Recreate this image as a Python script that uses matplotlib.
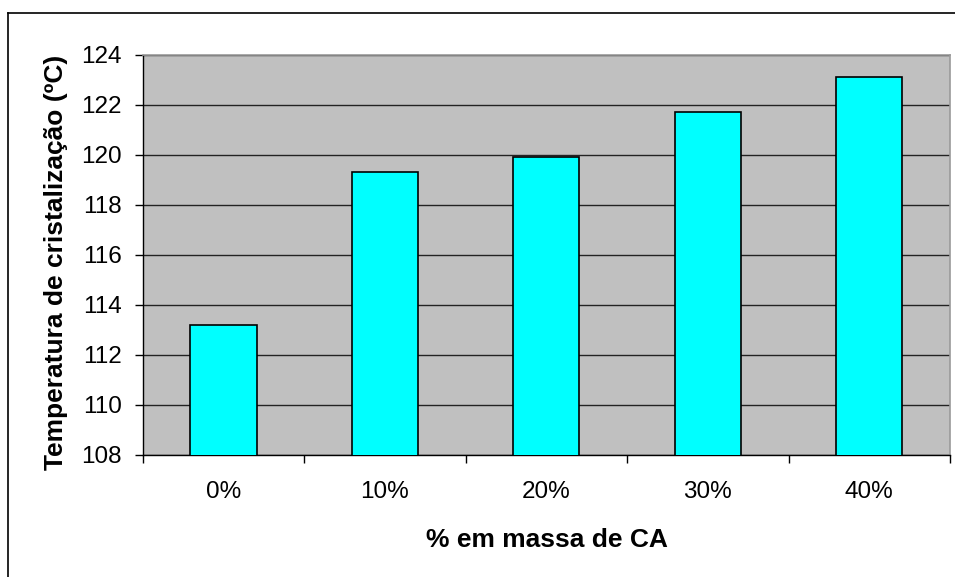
import numpy as np
import matplotlib
matplotlib.use("Agg")
import matplotlib.pyplot as plt
from matplotlib.lines import Line2D

categories = ['0%', '10%', '20%', '30%', '40%']
temperatures = [113.2, 119.3, 119.9, 121.7, 123.1]
y_ticks = [108, 110, 112, 114, 116, 118, 120, 122, 124]

plt.rcParams['font.family'] = ['Liberation Sans', 'DejaVu Sans']

fig = plt.figure(figsize=(9.55, 5.77), dpi=100)
ax = fig.add_axes([142.7 / 955, 1 - 454.7 / 577, (950 - 142.7) / 955, 400 / 577])

x = np.arange(len(categories))
ax.set_facecolor('#C0C0C0')
ax.set_axisbelow(True)
ax.yaxis.grid(True, color='#222222', linewidth=1.0)
ax.bar(x, temperatures, width=0.41, color='#00FFFF', edgecolor='black', linewidth=1.2, zorder=3)

ax.set_xlim(-0.5, len(categories) - 0.5)
ax.set_ylim(108, 124)
ax.set_yticks(y_ticks)
ax.tick_params(axis='y', direction='out', length=6, width=1, pad=9, labelsize=17.5)

# category labels in the middle, tick marks on the boundaries
ax.set_xticks(x)
ax.set_xticklabels(categories)
ax.tick_params(axis='x', which='major', length=0, pad=19, labelsize=17.5)
ax.set_xticks(np.arange(len(categories) + 1) - 0.5, minor=True)
ax.tick_params(axis='x', which='minor', direction='out', length=6, width=1)

for side in ['top', 'right']:
    ax.spines[side].set_color('#9A9A9A')
    ax.spines[side].set_linewidth(1.2)
for side in ['left', 'bottom']:
    ax.spines[side].set_color('black')
    ax.spines[side].set_linewidth(1.0)

ax.set_ylabel('Temperatura de cristalização (ºC)', fontsize=19, fontweight='bold')
ax.yaxis.label.set_va('center')
ax.yaxis.label.set_ha('center')
ax.yaxis.set_label_coords(-0.108, 0.48)

ax.set_xlabel('% em massa de CA', fontsize=19, fontweight='bold')
ax.xaxis.label.set_va('center')
ax.xaxis.set_label_coords(0.5008, -0.213)

# chart-area border (top and left visible in the crop)
fig.add_artist(Line2D([8 / 955, 1.0], [1 - 12.5 / 577, 1 - 12.5 / 577], color='black', linewidth=1.2))
fig.add_artist(Line2D([8 / 955, 8 / 955], [0.0, 1 - 12.5 / 577], color='black', linewidth=1.2))

fig.savefig('out.png', dpi=100)
